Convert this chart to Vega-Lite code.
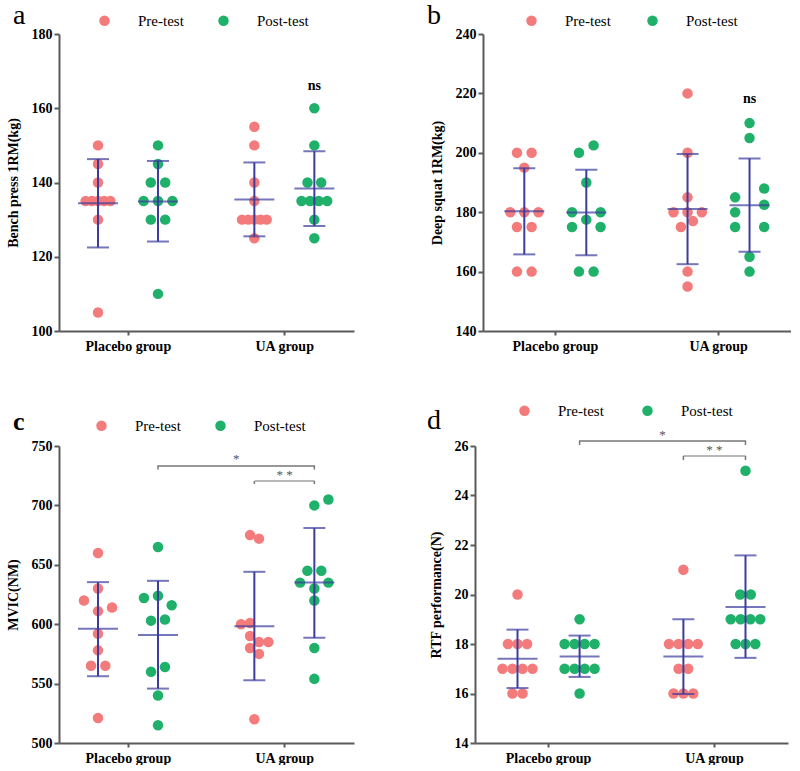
{
"$schema":"https://vega.github.io/schema/vega-lite/v6.json",
"background":"white",
"padding":{"left":6,"top":2,"right":0,"bottom":0},
"datasets":{
"points":[
{"panel":"a","group":"Placebo group","test":"Pre-test","value":150,"dodge":0},
{"panel":"a","group":"Placebo group","test":"Pre-test","value":145,"dodge":0},
{"panel":"a","group":"Placebo group","test":"Pre-test","value":140,"dodge":0},
{"panel":"a","group":"Placebo group","test":"Pre-test","value":135,"dodge":-1.03},
{"panel":"a","group":"Placebo group","test":"Pre-test","value":135,"dodge":-0.51},
{"panel":"a","group":"Placebo group","test":"Pre-test","value":135,"dodge":0},
{"panel":"a","group":"Placebo group","test":"Pre-test","value":135,"dodge":0.51},
{"panel":"a","group":"Placebo group","test":"Pre-test","value":135,"dodge":1.03},
{"panel":"a","group":"Placebo group","test":"Pre-test","value":130,"dodge":0},
{"panel":"a","group":"Placebo group","test":"Pre-test","value":105,"dodge":0},
{"panel":"a","group":"Placebo group","test":"Post-test","value":150,"dodge":0},
{"panel":"a","group":"Placebo group","test":"Post-test","value":145,"dodge":0},
{"panel":"a","group":"Placebo group","test":"Post-test","value":140,"dodge":-0.6},
{"panel":"a","group":"Placebo group","test":"Post-test","value":140,"dodge":0.6},
{"panel":"a","group":"Placebo group","test":"Post-test","value":135,"dodge":-1.2},
{"panel":"a","group":"Placebo group","test":"Post-test","value":135,"dodge":0},
{"panel":"a","group":"Placebo group","test":"Post-test","value":135,"dodge":1.2},
{"panel":"a","group":"Placebo group","test":"Post-test","value":130,"dodge":-0.6},
{"panel":"a","group":"Placebo group","test":"Post-test","value":130,"dodge":0.6},
{"panel":"a","group":"Placebo group","test":"Post-test","value":110,"dodge":0},
{"panel":"a","group":"UA group","test":"Pre-test","value":155,"dodge":0},
{"panel":"a","group":"UA group","test":"Pre-test","value":150,"dodge":0},
{"panel":"a","group":"UA group","test":"Pre-test","value":140,"dodge":0},
{"panel":"a","group":"UA group","test":"Pre-test","value":135,"dodge":0},
{"panel":"a","group":"UA group","test":"Pre-test","value":130,"dodge":-1.03},
{"panel":"a","group":"UA group","test":"Pre-test","value":130,"dodge":-0.51},
{"panel":"a","group":"UA group","test":"Pre-test","value":130,"dodge":0},
{"panel":"a","group":"UA group","test":"Pre-test","value":130,"dodge":0.51},
{"panel":"a","group":"UA group","test":"Pre-test","value":130,"dodge":1.03},
{"panel":"a","group":"UA group","test":"Pre-test","value":125,"dodge":0},
{"panel":"a","group":"UA group","test":"Post-test","value":160,"dodge":0},
{"panel":"a","group":"UA group","test":"Post-test","value":150,"dodge":0},
{"panel":"a","group":"UA group","test":"Post-test","value":140,"dodge":-0.57},
{"panel":"a","group":"UA group","test":"Post-test","value":140,"dodge":0.57},
{"panel":"a","group":"UA group","test":"Post-test","value":135,"dodge":-1.07},
{"panel":"a","group":"UA group","test":"Post-test","value":135,"dodge":-0.36},
{"panel":"a","group":"UA group","test":"Post-test","value":135,"dodge":0.36},
{"panel":"a","group":"UA group","test":"Post-test","value":135,"dodge":1.07},
{"panel":"a","group":"UA group","test":"Post-test","value":130,"dodge":0},
{"panel":"a","group":"UA group","test":"Post-test","value":125,"dodge":0},
{"panel":"b","group":"Placebo group","test":"Pre-test","value":200,"dodge":-0.61},
{"panel":"b","group":"Placebo group","test":"Pre-test","value":200,"dodge":0.61},
{"panel":"b","group":"Placebo group","test":"Pre-test","value":195,"dodge":0},
{"panel":"b","group":"Placebo group","test":"Pre-test","value":180,"dodge":-1.17},
{"panel":"b","group":"Placebo group","test":"Pre-test","value":180,"dodge":0},
{"panel":"b","group":"Placebo group","test":"Pre-test","value":180,"dodge":1.18},
{"panel":"b","group":"Placebo group","test":"Pre-test","value":175,"dodge":-0.61},
{"panel":"b","group":"Placebo group","test":"Pre-test","value":175,"dodge":0.61},
{"panel":"b","group":"Placebo group","test":"Pre-test","value":160,"dodge":-0.61},
{"panel":"b","group":"Placebo group","test":"Pre-test","value":160,"dodge":0.61},
{"panel":"b","group":"Placebo group","test":"Post-test","value":202.5,"dodge":0.61},
{"panel":"b","group":"Placebo group","test":"Post-test","value":200,"dodge":-0.61},
{"panel":"b","group":"Placebo group","test":"Post-test","value":190,"dodge":0},
{"panel":"b","group":"Placebo group","test":"Post-test","value":180,"dodge":-1.19},
{"panel":"b","group":"Placebo group","test":"Post-test","value":180,"dodge":1.19},
{"panel":"b","group":"Placebo group","test":"Post-test","value":177.5,"dodge":0},
{"panel":"b","group":"Placebo group","test":"Post-test","value":175,"dodge":-1.19},
{"panel":"b","group":"Placebo group","test":"Post-test","value":175,"dodge":1.19},
{"panel":"b","group":"Placebo group","test":"Post-test","value":160,"dodge":-0.61},
{"panel":"b","group":"Placebo group","test":"Post-test","value":160,"dodge":0.61},
{"panel":"b","group":"UA group","test":"Pre-test","value":220,"dodge":0},
{"panel":"b","group":"UA group","test":"Pre-test","value":200,"dodge":0},
{"panel":"b","group":"UA group","test":"Pre-test","value":185,"dodge":0},
{"panel":"b","group":"UA group","test":"Pre-test","value":180,"dodge":-1.17},
{"panel":"b","group":"UA group","test":"Pre-test","value":180,"dodge":0},
{"panel":"b","group":"UA group","test":"Pre-test","value":180,"dodge":1.19},
{"panel":"b","group":"UA group","test":"Pre-test","value":177,"dodge":0.45},
{"panel":"b","group":"UA group","test":"Pre-test","value":175,"dodge":-0.55},
{"panel":"b","group":"UA group","test":"Pre-test","value":160,"dodge":0},
{"panel":"b","group":"UA group","test":"Pre-test","value":155,"dodge":0},
{"panel":"b","group":"UA group","test":"Post-test","value":210,"dodge":0},
{"panel":"b","group":"UA group","test":"Post-test","value":205,"dodge":0},
{"panel":"b","group":"UA group","test":"Post-test","value":188,"dodge":1.22},
{"panel":"b","group":"UA group","test":"Post-test","value":185,"dodge":-1.2},
{"panel":"b","group":"UA group","test":"Post-test","value":182.5,"dodge":1.22},
{"panel":"b","group":"UA group","test":"Post-test","value":180,"dodge":-1.2},
{"panel":"b","group":"UA group","test":"Post-test","value":175,"dodge":-1.2},
{"panel":"b","group":"UA group","test":"Post-test","value":175,"dodge":1.22},
{"panel":"b","group":"UA group","test":"Post-test","value":165,"dodge":0},
{"panel":"b","group":"UA group","test":"Post-test","value":160,"dodge":0},
{"panel":"c","group":"Placebo group","test":"Pre-test","value":660,"dodge":0},
{"panel":"c","group":"Placebo group","test":"Pre-test","value":630,"dodge":0},
{"panel":"c","group":"Placebo group","test":"Pre-test","value":620,"dodge":-1.17},
{"panel":"c","group":"Placebo group","test":"Pre-test","value":614,"dodge":1.17},
{"panel":"c","group":"Placebo group","test":"Pre-test","value":611,"dodge":0},
{"panel":"c","group":"Placebo group","test":"Pre-test","value":592,"dodge":0},
{"panel":"c","group":"Placebo group","test":"Pre-test","value":578,"dodge":0},
{"panel":"c","group":"Placebo group","test":"Pre-test","value":565,"dodge":-0.58},
{"panel":"c","group":"Placebo group","test":"Pre-test","value":565,"dodge":0.61},
{"panel":"c","group":"Placebo group","test":"Pre-test","value":521,"dodge":0},
{"panel":"c","group":"Placebo group","test":"Post-test","value":665,"dodge":0},
{"panel":"c","group":"Placebo group","test":"Post-test","value":624,"dodge":0},
{"panel":"c","group":"Placebo group","test":"Post-test","value":622,"dodge":-1.17},
{"panel":"c","group":"Placebo group","test":"Post-test","value":616,"dodge":1.14},
{"panel":"c","group":"Placebo group","test":"Post-test","value":603,"dodge":-0.58},
{"panel":"c","group":"Placebo group","test":"Post-test","value":604,"dodge":0.58},
{"panel":"c","group":"Placebo group","test":"Post-test","value":560,"dodge":-0.58},
{"panel":"c","group":"Placebo group","test":"Post-test","value":564,"dodge":0.58},
{"panel":"c","group":"Placebo group","test":"Post-test","value":540,"dodge":0},
{"panel":"c","group":"Placebo group","test":"Post-test","value":515,"dodge":0},
{"panel":"c","group":"UA group","test":"Pre-test","value":675,"dodge":-0.36},
{"panel":"c","group":"UA group","test":"Pre-test","value":672,"dodge":0.39},
{"panel":"c","group":"UA group","test":"Pre-test","value":600,"dodge":-1.11},
{"panel":"c","group":"UA group","test":"Pre-test","value":601,"dodge":-0.36},
{"panel":"c","group":"UA group","test":"Pre-test","value":590,"dodge":-0.36},
{"panel":"c","group":"UA group","test":"Pre-test","value":585,"dodge":0.39},
{"panel":"c","group":"UA group","test":"Pre-test","value":585,"dodge":1.17},
{"panel":"c","group":"UA group","test":"Pre-test","value":580,"dodge":-0.36},
{"panel":"c","group":"UA group","test":"Pre-test","value":575,"dodge":0.39},
{"panel":"c","group":"UA group","test":"Pre-test","value":520,"dodge":0},
{"panel":"c","group":"UA group","test":"Post-test","value":705,"dodge":1.17},
{"panel":"c","group":"UA group","test":"Post-test","value":700,"dodge":0},
{"panel":"c","group":"UA group","test":"Post-test","value":645,"dodge":-0.58},
{"panel":"c","group":"UA group","test":"Post-test","value":645,"dodge":0.58},
{"panel":"c","group":"UA group","test":"Post-test","value":635,"dodge":-1.19},
{"panel":"c","group":"UA group","test":"Post-test","value":635,"dodge":1.17},
{"panel":"c","group":"UA group","test":"Post-test","value":630,"dodge":0},
{"panel":"c","group":"UA group","test":"Post-test","value":620,"dodge":0},
{"panel":"c","group":"UA group","test":"Post-test","value":580,"dodge":0},
{"panel":"c","group":"UA group","test":"Post-test","value":554,"dodge":0},
{"panel":"d","group":"Placebo group","test":"Pre-test","value":20,"dodge":0},
{"panel":"d","group":"Placebo group","test":"Pre-test","value":18,"dodge":-0.8},
{"panel":"d","group":"Placebo group","test":"Pre-test","value":18,"dodge":0},
{"panel":"d","group":"Placebo group","test":"Pre-test","value":18,"dodge":0.8},
{"panel":"d","group":"Placebo group","test":"Pre-test","value":17,"dodge":-1.25},
{"panel":"d","group":"Placebo group","test":"Pre-test","value":17,"dodge":-0.42},
{"panel":"d","group":"Placebo group","test":"Pre-test","value":17,"dodge":0.42},
{"panel":"d","group":"Placebo group","test":"Pre-test","value":17,"dodge":1.25},
{"panel":"d","group":"Placebo group","test":"Pre-test","value":16,"dodge":-0.42},
{"panel":"d","group":"Placebo group","test":"Pre-test","value":16,"dodge":0.42},
{"panel":"d","group":"Placebo group","test":"Post-test","value":19,"dodge":0},
{"panel":"d","group":"Placebo group","test":"Post-test","value":18,"dodge":-1.25},
{"panel":"d","group":"Placebo group","test":"Post-test","value":18,"dodge":-0.42},
{"panel":"d","group":"Placebo group","test":"Post-test","value":18,"dodge":0.42},
{"panel":"d","group":"Placebo group","test":"Post-test","value":18,"dodge":1.25},
{"panel":"d","group":"Placebo group","test":"Post-test","value":17,"dodge":-1.25},
{"panel":"d","group":"Placebo group","test":"Post-test","value":17,"dodge":-0.42},
{"panel":"d","group":"Placebo group","test":"Post-test","value":17,"dodge":0.42},
{"panel":"d","group":"Placebo group","test":"Post-test","value":17,"dodge":1.25},
{"panel":"d","group":"Placebo group","test":"Post-test","value":16,"dodge":0},
{"panel":"d","group":"UA group","test":"Pre-test","value":21,"dodge":0},
{"panel":"d","group":"UA group","test":"Pre-test","value":18,"dodge":-1.2},
{"panel":"d","group":"UA group","test":"Pre-test","value":18,"dodge":-0.4},
{"panel":"d","group":"UA group","test":"Pre-test","value":18,"dodge":0.4},
{"panel":"d","group":"UA group","test":"Pre-test","value":18,"dodge":1.2},
{"panel":"d","group":"UA group","test":"Pre-test","value":17,"dodge":-0.4},
{"panel":"d","group":"UA group","test":"Pre-test","value":17,"dodge":0.4},
{"panel":"d","group":"UA group","test":"Pre-test","value":16,"dodge":-0.82},
{"panel":"d","group":"UA group","test":"Pre-test","value":16,"dodge":0},
{"panel":"d","group":"UA group","test":"Pre-test","value":16,"dodge":0.82},
{"panel":"d","group":"UA group","test":"Post-test","value":25,"dodge":0},
{"panel":"d","group":"UA group","test":"Post-test","value":20,"dodge":-0.44},
{"panel":"d","group":"UA group","test":"Post-test","value":20,"dodge":0.44},
{"panel":"d","group":"UA group","test":"Post-test","value":19,"dodge":-1.23},
{"panel":"d","group":"UA group","test":"Post-test","value":19,"dodge":-0.41},
{"panel":"d","group":"UA group","test":"Post-test","value":19,"dodge":0.41},
{"panel":"d","group":"UA group","test":"Post-test","value":19,"dodge":1.23},
{"panel":"d","group":"UA group","test":"Post-test","value":18,"dodge":-0.82},
{"panel":"d","group":"UA group","test":"Post-test","value":18,"dodge":0},
{"panel":"d","group":"UA group","test":"Post-test","value":18,"dodge":0.82}
],
"stats":[
{"panel":"a","group":"Placebo group","test":"Pre-test","mean":134.4,"lo":122.5,"hi":146.3},
{"panel":"a","group":"Placebo group","test":"Post-test","mean":134.9,"lo":124.1,"hi":145.8},
{"panel":"a","group":"UA group","test":"Pre-test","mean":135.4,"lo":125.5,"hi":145.4},
{"panel":"a","group":"UA group","test":"Post-test","mean":138.4,"lo":128.3,"hi":148.4},
{"panel":"b","group":"Placebo group","test":"Pre-test","mean":180.3,"lo":165.8,"hi":194.8},
{"panel":"b","group":"Placebo group","test":"Post-test","mean":179.9,"lo":165.5,"hi":194.3},
{"panel":"b","group":"UA group","test":"Pre-test","mean":181.1,"lo":162.5,"hi":199.6},
{"panel":"b","group":"UA group","test":"Post-test","mean":182.3,"lo":166.7,"hi":198.1},
{"panel":"c","group":"Placebo group","test":"Pre-test","mean":596.1,"lo":556.2,"hi":635.4},
{"panel":"c","group":"Placebo group","test":"Post-test","mean":591.0,"lo":545.8,"hi":636.5},
{"panel":"c","group":"UA group","test":"Pre-test","mean":598.3,"lo":552.8,"hi":644.1},
{"panel":"c","group":"UA group","test":"Post-test","mean":635.1,"lo":588.5,"hi":680.9},
{"panel":"d","group":"Placebo group","test":"Pre-test","mean":17.4,"lo":16.22,"hi":18.58},
{"panel":"d","group":"Placebo group","test":"Post-test","mean":17.5,"lo":16.67,"hi":18.34},
{"panel":"d","group":"UA group","test":"Pre-test","mean":17.5,"lo":15.98,"hi":19.0},
{"panel":"d","group":"UA group","test":"Post-test","mean":19.5,"lo":17.44,"hi":21.58}
],
"notes":[
{"panel":"a","kind":"ns","group":"UA group","y":166,"label":"ns"},
{"panel":"b","kind":"ns","group":"UA group","y":218,"label":"ns"},
{"panel":"c","kind":"b1","group":"Placebo group","y":730.2,"ord":1},
{"panel":"c","kind":"b1","group":"Placebo group","y":733.2,"ord":2},
{"panel":"c","kind":"b1","group":"UA group","y":733.2,"ord":3},
{"panel":"c","kind":"b1","group":"UA group","y":730.2,"ord":4},
{"panel":"c","kind":"b2","group":"UA group","y":720.5,"y2":718.0},
{"panel":"c","kind":"s1","group":"UA group","y":739,"label":"*"},
{"panel":"c","kind":"s2","group":"UA group","y":725.6,"label":"* *"},
{"panel":"d","kind":"b1","group":"Placebo group","y":26.04,"ord":1},
{"panel":"d","kind":"b1","group":"Placebo group","y":26.2,"ord":2},
{"panel":"d","kind":"b1","group":"UA group","y":26.2,"ord":3},
{"panel":"d","kind":"b1","group":"UA group","y":26.04,"ord":4},
{"panel":"d","kind":"b2","group":"UA group","y":25.6,"y2":25.43},
{"panel":"d","kind":"s1","group":"UA group","y":26.44,"label":"*"},
{"panel":"d","kind":"s2","group":"UA group","y":25.84,"label":"* *"}
]
},
"spacing":50,
"bounds":"full",
"resolve":{"scale":{"color":"independent"},"legend":{"color":"independent"}},
"vconcat":[
{"hconcat":[
{"width":295,"height":297,
 "title":{"text":"a","anchor":"start","frame":"group","dx":-46,"dy":21,"fontSize":28,"font":"Liberation Serif","fontWeight":"normal","color":"#000"},
 "resolve":{"scale":{"xOffset":"independent"}},
 "layer":[
  {"layer":[
   {"data":{"name":"points"},"transform":[{"filter":"datum.panel==='a' && datum.test==='Pre-test'"}],
    "mark":{"type":"circle","size":110,"opacity":1},
    "encoding":{
     "x":{"field":"group","type":"nominal","title":null,"sort":null,"scale":{"domain":["Placebo group","UA group"],"paddingInner":0.1132,"paddingOuter":0}},
     "y":{"field":"value","type":"quantitative","title":"Bench press 1RM(kg)","scale":{"domain":[100,180],"nice":false,"zero":false},"axis":{"values":[100,120,140,160,180]}},
     "xOffset":{"field":"dodge","type":"quantitative","scale":{"domain":[-1,1],"range":[27,51]}},
     "color":{"field":"test","type":"nominal","scale":{"domain":["Pre-test","Post-test"],"range":["#F47B7B","#1FB06A"]},
      "legend":{"orient":"none","legendX":38,"legendY":-21,"direction":"horizontal","title":null,"labelFont":"Liberation Serif","labelFontSize":15,"labelFontWeight":"normal","labelColor":"#000","labelOffset":26,"columnPadding":32,"symbolSize":110,"symbolType":"circle","padding":0}}}},
   {"data":{"name":"stats"},"transform":[{"filter":"datum.panel==='a' && datum.test==='Pre-test'"}],
    "mark":{"type":"rule","color":"#3C3C9E","strokeWidth":2},
    "encoding":{"x":{"field":"group","type":"nominal","title":null,"sort":null},"xOffset":{"datum":0,"type":"quantitative"},"y":{"field":"lo","type":"quantitative","title":"Bench press 1RM(kg)"},"y2":{"field":"hi"}}},
   {"data":{"name":"stats"},"transform":[{"filter":"datum.panel==='a' && datum.test==='Pre-test'"},{"fold":["lo","hi"],"as":["end","endv"]}],
    "mark":{"type":"tick","color":"#3C3C9E","thickness":2,"size":22},
    "encoding":{"x":{"field":"group","type":"nominal","title":null,"sort":null},"xOffset":{"datum":0,"type":"quantitative"},"y":{"field":"endv","type":"quantitative","title":"Bench press 1RM(kg)"}}},
   {"data":{"name":"stats"},"transform":[{"filter":"datum.panel==='a' && datum.test==='Pre-test'"}],
    "mark":{"type":"tick","color":"#3C3C9E","thickness":2,"size":40},
    "encoding":{"x":{"field":"group","type":"nominal","title":null,"sort":null},"xOffset":{"datum":0,"type":"quantitative"},"y":{"field":"mean","type":"quantitative","title":"Bench press 1RM(kg)"}}}
  ]},
  {"layer":[
   {"data":{"name":"points"},"transform":[{"filter":"datum.panel==='a' && datum.test==='Post-test'"}],
    "mark":{"type":"circle","size":110,"opacity":1},
    "encoding":{
     "x":{"field":"group","type":"nominal","title":null,"sort":null},
     "y":{"field":"value","type":"quantitative","title":"Bench press 1RM(kg)"},
     "xOffset":{"field":"dodge","type":"quantitative","scale":{"domain":[-1,1],"range":[87,111]}},
     "color":{"field":"test","type":"nominal"}}},
   {"data":{"name":"stats"},"transform":[{"filter":"datum.panel==='a' && datum.test==='Post-test'"}],
    "mark":{"type":"rule","color":"#3C3C9E","strokeWidth":2},
    "encoding":{"x":{"field":"group","type":"nominal","title":null,"sort":null},"xOffset":{"datum":0,"type":"quantitative"},"y":{"field":"lo","type":"quantitative","title":"Bench press 1RM(kg)"},"y2":{"field":"hi"}}},
   {"data":{"name":"stats"},"transform":[{"filter":"datum.panel==='a' && datum.test==='Post-test'"},{"fold":["lo","hi"],"as":["end","endv"]}],
    "mark":{"type":"tick","color":"#3C3C9E","thickness":2,"size":22},
    "encoding":{"x":{"field":"group","type":"nominal","title":null,"sort":null},"xOffset":{"datum":0,"type":"quantitative"},"y":{"field":"endv","type":"quantitative","title":"Bench press 1RM(kg)"}}},
   {"data":{"name":"stats"},"transform":[{"filter":"datum.panel==='a' && datum.test==='Post-test'"}],
    "mark":{"type":"tick","color":"#3C3C9E","thickness":2,"size":40},
    "encoding":{"x":{"field":"group","type":"nominal","title":null,"sort":null},"xOffset":{"datum":0,"type":"quantitative"},"y":{"field":"mean","type":"quantitative","title":"Bench press 1RM(kg)"}}},
   {"data":{"name":"notes"},"transform":[{"filter":"datum.panel==='a' && datum.kind==='ns'"}],
    "mark":{"type":"text","font":"Liberation Serif","fontSize":14,"fontWeight":"bold","color":"#000","baseline":"middle"},
    "encoding":{"x":{"field":"group","type":"nominal","title":null,"sort":null},"xOffset":{"datum":0,"type":"quantitative"},"y":{"field":"y","type":"quantitative","title":"Bench press 1RM(kg)"},"text":{"field":"label"}}}
  ]}
 ]},
{"width":308,"height":297,
 "title":{"text":"b","anchor":"start","frame":"group","dx":-56,"dy":21,"fontSize":28,"font":"Liberation Serif","fontWeight":"normal","color":"#000"},
 "resolve":{"scale":{"xOffset":"independent"}},
 "layer":[
  {"layer":[
   {"data":{"name":"points"},"transform":[{"filter":"datum.panel==='b' && datum.test==='Pre-test'"}],
    "mark":{"type":"circle","size":110,"opacity":1},
    "encoding":{
     "x":{"field":"group","type":"nominal","title":null,"sort":null,"scale":{"domain":["Placebo group","UA group"],"paddingInner":0.1132,"paddingOuter":0}},
     "y":{"field":"value","type":"quantitative","title":"Deep squat 1RM(kg)","scale":{"domain":[140,240],"nice":false,"zero":false},"axis":{"values":[140,160,180,200,220,240]}},
     "xOffset":{"field":"dodge","type":"quantitative","scale":{"domain":[-1,1],"range":[29.3,53.3]}},
     "color":{"field":"test","type":"nominal","scale":{"domain":["Pre-test","Post-test"],"range":["#F47B7B","#1FB06A"]},
      "legend":{"orient":"none","legendX":41,"legendY":-21,"direction":"horizontal","title":null,"labelFont":"Liberation Serif","labelFontSize":15,"labelFontWeight":"normal","labelColor":"#000","labelOffset":26,"columnPadding":34,"symbolSize":110,"symbolType":"circle","padding":0}}}},
   {"data":{"name":"stats"},"transform":[{"filter":"datum.panel==='b' && datum.test==='Pre-test'"}],
    "mark":{"type":"rule","color":"#3C3C9E","strokeWidth":2},
    "encoding":{"x":{"field":"group","type":"nominal","title":null,"sort":null},"xOffset":{"datum":0,"type":"quantitative"},"y":{"field":"lo","type":"quantitative","title":"Deep squat 1RM(kg)"},"y2":{"field":"hi"}}},
   {"data":{"name":"stats"},"transform":[{"filter":"datum.panel==='b' && datum.test==='Pre-test'"},{"fold":["lo","hi"],"as":["end","endv"]}],
    "mark":{"type":"tick","color":"#3C3C9E","thickness":2,"size":22},
    "encoding":{"x":{"field":"group","type":"nominal","title":null,"sort":null},"xOffset":{"datum":0,"type":"quantitative"},"y":{"field":"endv","type":"quantitative","title":"Deep squat 1RM(kg)"}}},
   {"data":{"name":"stats"},"transform":[{"filter":"datum.panel==='b' && datum.test==='Pre-test'"}],
    "mark":{"type":"tick","color":"#3C3C9E","thickness":2,"size":40},
    "encoding":{"x":{"field":"group","type":"nominal","title":null,"sort":null},"xOffset":{"datum":0,"type":"quantitative"},"y":{"field":"mean","type":"quantitative","title":"Deep squat 1RM(kg)"}}}
  ]},
  {"layer":[
   {"data":{"name":"points"},"transform":[{"filter":"datum.panel==='b' && datum.test==='Post-test'"}],
    "mark":{"type":"circle","size":110,"opacity":1},
    "encoding":{
     "x":{"field":"group","type":"nominal","title":null,"sort":null},
     "y":{"field":"value","type":"quantitative","title":"Deep squat 1RM(kg)"},
     "xOffset":{"field":"dodge","type":"quantitative","scale":{"domain":[-1,1],"range":[91.3,115.3]}},
     "color":{"field":"test","type":"nominal"}}},
   {"data":{"name":"stats"},"transform":[{"filter":"datum.panel==='b' && datum.test==='Post-test'"}],
    "mark":{"type":"rule","color":"#3C3C9E","strokeWidth":2},
    "encoding":{"x":{"field":"group","type":"nominal","title":null,"sort":null},"xOffset":{"datum":0,"type":"quantitative"},"y":{"field":"lo","type":"quantitative","title":"Deep squat 1RM(kg)"},"y2":{"field":"hi"}}},
   {"data":{"name":"stats"},"transform":[{"filter":"datum.panel==='b' && datum.test==='Post-test'"},{"fold":["lo","hi"],"as":["end","endv"]}],
    "mark":{"type":"tick","color":"#3C3C9E","thickness":2,"size":22},
    "encoding":{"x":{"field":"group","type":"nominal","title":null,"sort":null},"xOffset":{"datum":0,"type":"quantitative"},"y":{"field":"endv","type":"quantitative","title":"Deep squat 1RM(kg)"}}},
   {"data":{"name":"stats"},"transform":[{"filter":"datum.panel==='b' && datum.test==='Post-test'"}],
    "mark":{"type":"tick","color":"#3C3C9E","thickness":2,"size":40},
    "encoding":{"x":{"field":"group","type":"nominal","title":null,"sort":null},"xOffset":{"datum":0,"type":"quantitative"},"y":{"field":"mean","type":"quantitative","title":"Deep squat 1RM(kg)"}}},
   {"data":{"name":"notes"},"transform":[{"filter":"datum.panel==='b' && datum.kind==='ns'"}],
    "mark":{"type":"text","font":"Liberation Serif","fontSize":14,"fontWeight":"bold","color":"#000","baseline":"middle"},
    "encoding":{"x":{"field":"group","type":"nominal","title":null,"sort":null},"xOffset":{"datum":0,"type":"quantitative"},"y":{"field":"y","type":"quantitative","title":"Deep squat 1RM(kg)"},"text":{"field":"label"}}}
  ]}
 ]}
],"spacing":129,"bounds":"flush","resolve":{"scale":{"color":"independent"},"legend":{"color":"independent"}}},
{"hconcat":[
{"width":295,"height":297,
 "title":{"text":"c","anchor":"start","frame":"group","dx":-46,"dy":21,"fontSize":26,"font":"Liberation Serif","fontWeight":"bold","color":"#000"},
 "resolve":{"scale":{"xOffset":"independent"}},
 "layer":[
  {"layer":[
   {"data":{"name":"points"},"transform":[{"filter":"datum.panel==='c' && datum.test==='Pre-test'"}],
    "mark":{"type":"circle","size":110,"opacity":1},
    "encoding":{
     "x":{"field":"group","type":"nominal","title":null,"sort":null,"scale":{"domain":["Placebo group","UA group"],"paddingInner":0.1132,"paddingOuter":0}},
     "y":{"field":"value","type":"quantitative","title":"MVIC(NM)","scale":{"domain":[500,750],"nice":false,"zero":false},"axis":{"values":[500,550,600,650,700,750]}},
     "xOffset":{"field":"dodge","type":"quantitative","scale":{"domain":[-1,1],"range":[27,51]}},
     "color":{"field":"test","type":"nominal","scale":{"domain":["Pre-test","Post-test"],"range":["#F47B7B","#1FB06A"]},
      "legend":{"orient":"none","legendX":35,"legendY":-28,"direction":"horizontal","title":null,"labelFont":"Liberation Serif","labelFontSize":15,"labelFontWeight":"normal","labelColor":"#000","labelOffset":26,"columnPadding":32,"symbolSize":110,"symbolType":"circle","padding":0}}}},
   {"data":{"name":"stats"},"transform":[{"filter":"datum.panel==='c' && datum.test==='Pre-test'"}],
    "mark":{"type":"rule","color":"#3C3C9E","strokeWidth":2},
    "encoding":{"x":{"field":"group","type":"nominal","title":null,"sort":null},"xOffset":{"datum":0,"type":"quantitative"},"y":{"field":"lo","type":"quantitative","title":"MVIC(NM)"},"y2":{"field":"hi"}}},
   {"data":{"name":"stats"},"transform":[{"filter":"datum.panel==='c' && datum.test==='Pre-test'"},{"fold":["lo","hi"],"as":["end","endv"]}],
    "mark":{"type":"tick","color":"#3C3C9E","thickness":2,"size":22},
    "encoding":{"x":{"field":"group","type":"nominal","title":null,"sort":null},"xOffset":{"datum":0,"type":"quantitative"},"y":{"field":"endv","type":"quantitative","title":"MVIC(NM)"}}},
   {"data":{"name":"stats"},"transform":[{"filter":"datum.panel==='c' && datum.test==='Pre-test'"}],
    "mark":{"type":"tick","color":"#3C3C9E","thickness":2,"size":40},
    "encoding":{"x":{"field":"group","type":"nominal","title":null,"sort":null},"xOffset":{"datum":0,"type":"quantitative"},"y":{"field":"mean","type":"quantitative","title":"MVIC(NM)"}}},
   {"data":{"name":"notes"},"transform":[{"filter":"datum.panel==='c' && datum.kind==='b2'"}],
    "mark":{"type":"rule","color":"#777777","strokeWidth":1.5},
    "encoding":{"x":{"field":"group","type":"nominal","title":null,"sort":null},"xOffset":{"datum":0,"type":"quantitative"},"y":{"field":"y2","type":"quantitative","title":"MVIC(NM)"},"y2":{"field":"y"}}}
  ]},
  {"layer":[
   {"data":{"name":"points"},"transform":[{"filter":"datum.panel==='c' && datum.test==='Post-test'"}],
    "mark":{"type":"circle","size":110,"opacity":1},
    "encoding":{
     "x":{"field":"group","type":"nominal","title":null,"sort":null},
     "y":{"field":"value","type":"quantitative","title":"MVIC(NM)"},
     "xOffset":{"field":"dodge","type":"quantitative","scale":{"domain":[-1,1],"range":[87,111]}},
     "color":{"field":"test","type":"nominal"}}},
   {"data":{"name":"stats"},"transform":[{"filter":"datum.panel==='c' && datum.test==='Post-test'"}],
    "mark":{"type":"rule","color":"#3C3C9E","strokeWidth":2},
    "encoding":{"x":{"field":"group","type":"nominal","title":null,"sort":null},"xOffset":{"datum":0,"type":"quantitative"},"y":{"field":"lo","type":"quantitative","title":"MVIC(NM)"},"y2":{"field":"hi"}}},
   {"data":{"name":"stats"},"transform":[{"filter":"datum.panel==='c' && datum.test==='Post-test'"},{"fold":["lo","hi"],"as":["end","endv"]}],
    "mark":{"type":"tick","color":"#3C3C9E","thickness":2,"size":22},
    "encoding":{"x":{"field":"group","type":"nominal","title":null,"sort":null},"xOffset":{"datum":0,"type":"quantitative"},"y":{"field":"endv","type":"quantitative","title":"MVIC(NM)"}}},
   {"data":{"name":"stats"},"transform":[{"filter":"datum.panel==='c' && datum.test==='Post-test'"}],
    "mark":{"type":"tick","color":"#3C3C9E","thickness":2,"size":40},
    "encoding":{"x":{"field":"group","type":"nominal","title":null,"sort":null},"xOffset":{"datum":0,"type":"quantitative"},"y":{"field":"mean","type":"quantitative","title":"MVIC(NM)"}}},
   {"data":{"name":"notes"},"transform":[{"filter":"datum.panel==='c' && datum.kind==='b2'"}],
    "mark":{"type":"rule","color":"#777777","strokeWidth":1.5},
    "encoding":{"x":{"field":"group","type":"nominal","title":null,"sort":null},"xOffset":{"datum":0,"type":"quantitative"},"y":{"field":"y2","type":"quantitative","title":"MVIC(NM)"},"y2":{"field":"y"}}},
   {"data":{"name":"notes"},"transform":[{"filter":"datum.panel==='c' && datum.kind==='b1'"}],
    "mark":{"type":"line","color":"#777777","strokeWidth":1.5},
    "encoding":{"x":{"field":"group","type":"nominal","title":null,"sort":null},"xOffset":{"datum":0,"type":"quantitative"},"y":{"field":"y","type":"quantitative","title":"MVIC(NM)"},"order":{"field":"ord","type":"quantitative"}}},
   {"data":{"name":"notes"},"transform":[{"filter":"datum.panel==='c' && datum.kind==='s1'"}],
    "mark":{"type":"text","font":"Liberation Serif","fontSize":13,"color":"#555555","baseline":"middle","dx":-78},
    "encoding":{"x":{"field":"group","type":"nominal","title":null,"sort":null},"xOffset":{"datum":0,"type":"quantitative"},"y":{"field":"y","type":"quantitative","title":"MVIC(NM)"},"text":{"field":"label"}}}
  ]},
  {"data":{"name":"notes"},"transform":[{"filter":"datum.panel==='c' && datum.kind==='b2'"}],
   "mark":{"type":"tick","color":"#777777","thickness":1.5,"size":60},
   "encoding":{"x":{"field":"group","type":"nominal","title":null,"sort":null},"y":{"field":"y","type":"quantitative","title":"MVIC(NM)"}}},
  {"data":{"name":"notes"},"transform":[{"filter":"datum.panel==='c' && datum.kind==='s2'"}],
   "mark":{"type":"text","font":"Liberation Serif","fontSize":13,"color":"#555555","baseline":"middle"},
   "encoding":{"x":{"field":"group","type":"nominal","title":null,"sort":null},"y":{"field":"y","type":"quantitative","title":"MVIC(NM)"},"text":{"field":"label"}}}
 ]},
{"width":313,"height":297,
 "title":{"text":"d","anchor":"start","frame":"group","dx":-48,"dy":36,"fontSize":28,"font":"Liberation Serif","fontWeight":"normal","color":"#000"},
 "resolve":{"scale":{"xOffset":"independent"}},
 "layer":[
  {"layer":[
   {"data":{"name":"points"},"transform":[{"filter":"datum.panel==='d' && datum.test==='Pre-test'"}],
    "mark":{"type":"circle","size":110,"opacity":1},
    "encoding":{
     "x":{"field":"group","type":"nominal","title":null,"sort":null,"scale":{"domain":["Placebo group","UA group"],"paddingInner":0.1132,"paddingOuter":0}},
     "y":{"field":"value","type":"quantitative","title":"RTF performance(N)","scale":{"domain":[14,26],"nice":false,"zero":false},"axis":{"values":[14,16,18,20,22,24,26]}},
     "xOffset":{"field":"dodge","type":"quantitative","scale":{"domain":[-1,1],"range":[30.5,54.5]}},
     "color":{"field":"test","type":"nominal","scale":{"domain":["Pre-test","Post-test"],"range":["#F47B7B","#1FB06A"]},
      "legend":{"orient":"none","legendX":42,"legendY":-43,"direction":"horizontal","title":null,"labelFont":"Liberation Serif","labelFontSize":15,"labelFontWeight":"normal","labelColor":"#000","labelOffset":26,"columnPadding":36,"symbolSize":110,"symbolType":"circle","padding":0}}}},
   {"data":{"name":"stats"},"transform":[{"filter":"datum.panel==='d' && datum.test==='Pre-test'"}],
    "mark":{"type":"rule","color":"#3C3C9E","strokeWidth":2},
    "encoding":{"x":{"field":"group","type":"nominal","title":null,"sort":null},"xOffset":{"datum":0,"type":"quantitative"},"y":{"field":"lo","type":"quantitative","title":"RTF performance(N)"},"y2":{"field":"hi"}}},
   {"data":{"name":"stats"},"transform":[{"filter":"datum.panel==='d' && datum.test==='Pre-test'"},{"fold":["lo","hi"],"as":["end","endv"]}],
    "mark":{"type":"tick","color":"#3C3C9E","thickness":2,"size":22},
    "encoding":{"x":{"field":"group","type":"nominal","title":null,"sort":null},"xOffset":{"datum":0,"type":"quantitative"},"y":{"field":"endv","type":"quantitative","title":"RTF performance(N)"}}},
   {"data":{"name":"stats"},"transform":[{"filter":"datum.panel==='d' && datum.test==='Pre-test'"}],
    "mark":{"type":"tick","color":"#3C3C9E","thickness":2,"size":40},
    "encoding":{"x":{"field":"group","type":"nominal","title":null,"sort":null},"xOffset":{"datum":0,"type":"quantitative"},"y":{"field":"mean","type":"quantitative","title":"RTF performance(N)"}}},
   {"data":{"name":"notes"},"transform":[{"filter":"datum.panel==='d' && datum.kind==='b2'"}],
    "mark":{"type":"rule","color":"#777777","strokeWidth":1.5},
    "encoding":{"x":{"field":"group","type":"nominal","title":null,"sort":null},"xOffset":{"datum":0,"type":"quantitative"},"y":{"field":"y2","type":"quantitative","title":"RTF performance(N)"},"y2":{"field":"y"}}}
  ]},
  {"layer":[
   {"data":{"name":"points"},"transform":[{"filter":"datum.panel==='d' && datum.test==='Post-test'"}],
    "mark":{"type":"circle","size":110,"opacity":1},
    "encoding":{
     "x":{"field":"group","type":"nominal","title":null,"sort":null},
     "y":{"field":"value","type":"quantitative","title":"RTF performance(N)"},
     "xOffset":{"field":"dodge","type":"quantitative","scale":{"domain":[-1,1],"range":[92.6,116.6]}},
     "color":{"field":"test","type":"nominal"}}},
   {"data":{"name":"stats"},"transform":[{"filter":"datum.panel==='d' && datum.test==='Post-test'"}],
    "mark":{"type":"rule","color":"#3C3C9E","strokeWidth":2},
    "encoding":{"x":{"field":"group","type":"nominal","title":null,"sort":null},"xOffset":{"datum":0,"type":"quantitative"},"y":{"field":"lo","type":"quantitative","title":"RTF performance(N)"},"y2":{"field":"hi"}}},
   {"data":{"name":"stats"},"transform":[{"filter":"datum.panel==='d' && datum.test==='Post-test'"},{"fold":["lo","hi"],"as":["end","endv"]}],
    "mark":{"type":"tick","color":"#3C3C9E","thickness":2,"size":22},
    "encoding":{"x":{"field":"group","type":"nominal","title":null,"sort":null},"xOffset":{"datum":0,"type":"quantitative"},"y":{"field":"endv","type":"quantitative","title":"RTF performance(N)"}}},
   {"data":{"name":"stats"},"transform":[{"filter":"datum.panel==='d' && datum.test==='Post-test'"}],
    "mark":{"type":"tick","color":"#3C3C9E","thickness":2,"size":40},
    "encoding":{"x":{"field":"group","type":"nominal","title":null,"sort":null},"xOffset":{"datum":0,"type":"quantitative"},"y":{"field":"mean","type":"quantitative","title":"RTF performance(N)"}}},
   {"data":{"name":"notes"},"transform":[{"filter":"datum.panel==='d' && datum.kind==='b2'"}],
    "mark":{"type":"rule","color":"#777777","strokeWidth":1.5},
    "encoding":{"x":{"field":"group","type":"nominal","title":null,"sort":null},"xOffset":{"datum":0,"type":"quantitative"},"y":{"field":"y2","type":"quantitative","title":"RTF performance(N)"},"y2":{"field":"y"}}},
   {"data":{"name":"notes"},"transform":[{"filter":"datum.panel==='d' && datum.kind==='b1'"}],
    "mark":{"type":"line","color":"#777777","strokeWidth":1.5},
    "encoding":{"x":{"field":"group","type":"nominal","title":null,"sort":null},"xOffset":{"datum":0,"type":"quantitative"},"y":{"field":"y","type":"quantitative","title":"RTF performance(N)"},"order":{"field":"ord","type":"quantitative"}}},
   {"data":{"name":"notes"},"transform":[{"filter":"datum.panel==='d' && datum.kind==='s1'"}],
    "mark":{"type":"text","font":"Liberation Serif","fontSize":13,"color":"#555555","baseline":"middle","dx":-83},
    "encoding":{"x":{"field":"group","type":"nominal","title":null,"sort":null},"xOffset":{"datum":0,"type":"quantitative"},"y":{"field":"y","type":"quantitative","title":"RTF performance(N)"},"text":{"field":"label"}}}
  ]},
  {"data":{"name":"notes"},"transform":[{"filter":"datum.panel==='d' && datum.kind==='b2'"}],
   "mark":{"type":"tick","color":"#777777","thickness":1.5,"size":62},
   "encoding":{"x":{"field":"group","type":"nominal","title":null,"sort":null},"y":{"field":"y","type":"quantitative","title":"RTF performance(N)"}}},
  {"data":{"name":"notes"},"transform":[{"filter":"datum.panel==='d' && datum.kind==='s2'"}],
   "mark":{"type":"text","font":"Liberation Serif","fontSize":13,"color":"#555555","baseline":"middle"},
   "encoding":{"x":{"field":"group","type":"nominal","title":null,"sort":null},"y":{"field":"y","type":"quantitative","title":"RTF performance(N)"},"text":{"field":"label"}}}
 ]}
],"spacing":121,"bounds":"flush","resolve":{"scale":{"color":"independent"},"legend":{"color":"independent"}}}
],
"config":{
 "view":{"stroke":null},
 "font":"Liberation Serif",
 "axis":{"labelFont":"Liberation Serif","titleFont":"Liberation Serif","labelFontSize":14,"titleFontSize":14,"labelFontWeight":"bold","titleFontWeight":"bold","labelColor":"#000","titleColor":"#000","domainColor":"#5a5a5a","domainWidth":2,"tickColor":"#5a5a5a","tickWidth":2,"tickSize":5,"grid":false},
 "axisX":{"labelAngle":0,"labelPadding":4,"tickSize":4},
 "axisY":{"labelPadding":2,"titlePadding":11}
}
}
